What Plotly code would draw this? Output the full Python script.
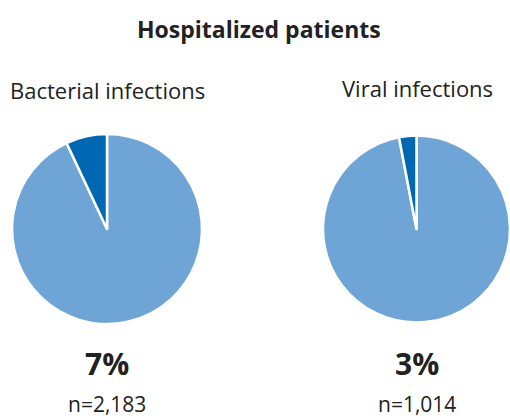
import plotly.graph_objects as go

categories = ["Bacterial infections", "Viral infections"]
shares = [7, 3]
counts = ["2,183", "1,014"]
title = "Hospitalized patients"
dark = "#0068b3"
light = "#6ea5d6"

W, H = 510, 418
FONT = "Open Sans"
TXT = "#222222"
fig = go.Figure()

domains = [
    dict(x=[12 / W, 202 / W], y=[(H - 324) / H, (H - 134) / H]),
    dict(x=[323 / W, 1.0], y=[(H - 324) / H, (H - 134) / H]),
]
centers_x = [107, 417]
sub_y = [90, 88]


def ann(x, y, text, size):
    fig.add_annotation(x=x / W, y=1 - y / H, xref="paper", yref="paper",
                       xanchor="center", yanchor="middle",
                       text=text, showarrow=False,
                       font=dict(size=size, color=TXT, family=FONT))


for i, cat in enumerate(categories):
    fig.add_trace(go.Pie(
        values=[100 - shares[i], shares[i]],
        labels=["No", "Yes"],
        sort=False,
        direction="clockwise",
        rotation=0,
        marker=dict(colors=[light, dark], line=dict(color="white", width=2.5)),
        textinfo="none",
        hoverinfo="none",
        domain=domains[i],
        showlegend=False,
    ))
    ann(centers_x[i], sub_y[i], cat, 22)
    ann(centers_x[i], 363, f"<b>{shares[i]}%</b>", 30)
    ann(centers_x[i], 404, f"n={counts[i]}", 21)

ann(259, 29, f"<b>{title}</b>", 23)

fig.update_layout(width=W, height=H, margin=dict(l=0, r=0, t=0, b=0),
                  paper_bgcolor="white", plot_bgcolor="white")
fig.write_html("out.html", config={"displayModeBar": False},
               post_script="document.body.style.margin='0';")
